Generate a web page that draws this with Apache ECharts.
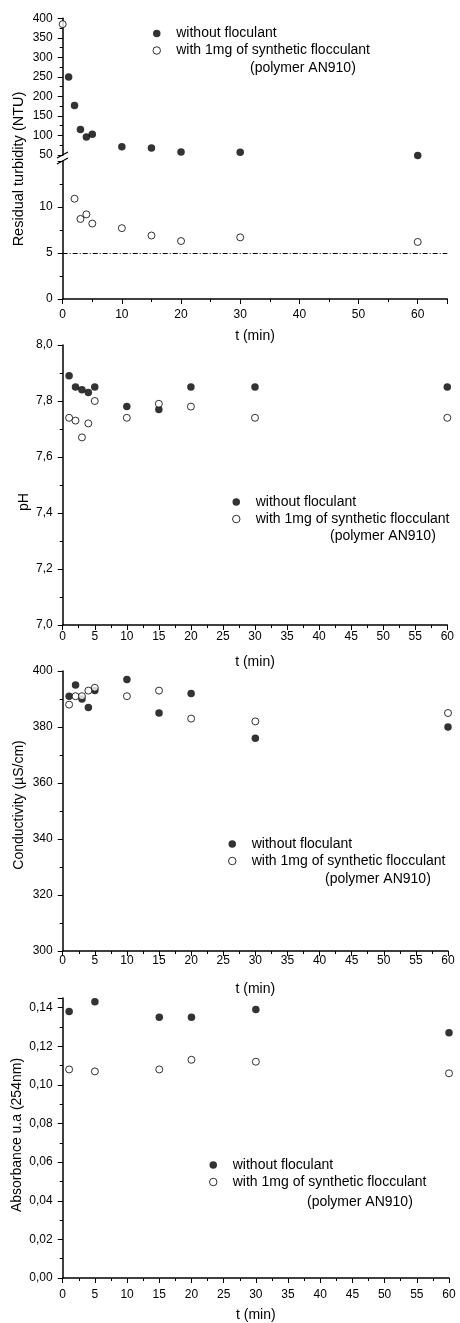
<!DOCTYPE html>
<html><head><meta charset="utf-8">
<script src="https://cdn.jsdelivr.net/npm/echarts@6/dist/echarts.min.js"></script>
<style>html,body{margin:0;padding:0;background:#fff}#c{width:460px;height:1323px}</style>
</head><body><div id="c"></div>
<script>
// ---- data ----
const seriesNames = ['without floculant', 'with 1mg of synthetic flocculant'];
const legendNote = '(polymer AN910)';
const xTitle = 't (min)';
const yTitles = ['Residual turbidity (NTU)', 'pH', 'Conductivity (µS/cm)', 'Absorbance u.a (254nm)'];

// turbidity (broken axis: upper 50-400, lower 0-15)
const turbTimeNoFloc = [1, 2, 3, 4, 5, 10, 15, 20, 30, 60];
const turbNoFloc = [250, 177, 115, 96, 103, 71, 68, 58, 57, 49];
const turbTimeFlocHigh = [0];
const turbFlocHigh = [385];
const turbTimeFloc = [2, 3, 4, 5, 10, 15, 20, 30, 60];
const turbFloc = [10.9, 8.7, 9.2, 8.2, 7.7, 6.9, 6.3, 6.7, 6.2];
const turbLimit = 5;

// pH & conductivity
const timeMin = [1, 2, 3, 4, 5, 10, 15, 20, 30, 60];
const phNoFloc = [7.89, 7.85, 7.84, 7.83, 7.85, 7.78, 7.77, 7.85, 7.85, 7.85];
const phFloc = [7.74, 7.73, 7.67, 7.72, 7.80, 7.74, 7.79, 7.78, 7.74, 7.74];
const condNoFloc = [391, 395, 390, 387, 393, 397, 385, 392, 376, 380];
const condFloc = [388, 391, 391, 393, 394, 391, 393, 383, 382, 385];

// absorbance
const absTime = [1, 5, 15, 20, 30, 60];
const absNoFloc = [0.138, 0.143, 0.135, 0.135, 0.139, 0.127];
const absFloc = [0.108, 0.107, 0.108, 0.113, 0.112, 0.106];

// ---- helpers ----
const FONT = "'Liberation Sans', Arial, sans-serif";
const zip = (xs, ys) => xs.map((x, i) => [x, ys[i]]);
const comma = d => v => v.toFixed(d).replace('.', ',');

function xAx(gi, max, interval, margin, nameGap, show) {
  return {
    type: 'value', gridIndex: gi, min: 0, max: max, interval: interval,
    show: show !== false,
    name: xTitle, nameLocation: 'middle', nameGap: nameGap,
    nameTextStyle: { color: '#000', fontSize: 14, fontFamily: FONT },
    axisLine: { show: true, onZero: false, lineStyle: { color: '#000', width: 1.5 } },
    axisTick: { show: true, length: 5, lineStyle: { color: '#000', width: 1 } },
    minorTick: { show: true, splitNumber: 2, length: 3, lineStyle: { color: '#000', width: 1 } },
    splitLine: { show: false },
    axisLabel: { color: '#000', fontSize: 12, fontFamily: FONT, margin: margin, showMaxLabel: max === 60,
      formatter: v => (v > 60 ? '' : String(v)) }
  };
}
function yAx(gi, min, max, interval, fmt, hideMax) {
  return {
    type: 'value', gridIndex: gi, min: min, max: max, interval: interval,
    axisLine: { show: true, onZero: false, lineStyle: { color: '#000', width: 1.5 } },
    axisTick: { show: true, length: 5, lineStyle: { color: '#000', width: 1 } },
    minorTick: { show: true, splitNumber: 2, length: 3, lineStyle: { color: '#000', width: 1 } },
    splitLine: { show: false },
    axisLabel: { color: '#000', fontSize: 12, fontFamily: FONT, margin: 10, showMaxLabel: !hideMax, formatter: fmt }
  };
}
const filled = { symbol: 'circle', symbolSize: 7.5, itemStyle: { color: '#000' } };
const open = { symbol: 'circle', symbolSize: 7, itemStyle: { color: '#fff', borderColor: '#000', borderWidth: 1 } };
function sc(name, xi, yi, data, style, extra) {
  return Object.assign({ type: 'scatter', name: name, xAxisIndex: xi, yAxisIndex: yi, data: data, clip: false, z: style === open ? 3 : 2 }, style, extra || {});
}

const legendPos = [[152.5, 25.5], [232, 494], [228, 836], [209, 1157]];
const notePos = [[250, 68], [330, 536], [325, 879], [307, 1202]];
const legends = legendPos.map(p => ({
  left: p[0], top: p[1], orient: 'vertical', padding: 0, itemGap: 1,
  itemWidth: 29, itemHeight: 7.5, selectedMode: false,
  textStyle: { color: '#000', fontSize: 14, fontFamily: FONT, lineHeight: 16 },
  data: [
    { name: seriesNames[0], icon: 'circle', itemStyle: { color: '#000', borderWidth: 0 } },
    { name: seriesNames[1], icon: 'circle', itemStyle: { color: '#fff', borderColor: '#000', borderWidth: 1 } }
  ]
}));

const titlePos = [[19, 169], [24, 502], [19, 805], [17, 1135]];
const graphics = [];
titlePos.forEach((p, i) => graphics.push({
  type: 'text', x: p[0], y: p[1], rotation: Math.PI / 2, silent: true,
  style: { text: yTitles[i], fill: '#000', font: (i === 0 ? '14.5px ' : '14px ') + FONT, align: 'center', verticalAlign: 'middle' }
}));
notePos.forEach(p => graphics.push({
  type: 'text', x: p[0], y: p[1], silent: true,
  style: { text: legendNote, fill: '#000', font: '14px ' + FONT, align: 'left', verticalAlign: 'middle' }
}));
// axis break marks
[[57, 158, 68, 152], [57, 164, 68, 158]].forEach(s => graphics.push({
  type: 'line', silent: true, shape: { x1: s[0], y1: s[1], x2: s[2], y2: s[3] },
  style: { stroke: '#000', lineWidth: 1.2 }
}));

const option = {
  animation: false,
  backgroundColor: '#fff',
  grid: [
    { left: 62.7, top: 18.3, width: 384.6, height: 136.7 },
    { left: 62.7, top: 161, width: 384.6, height: 138 },
    { left: 62.7, top: 345, width: 384.6, height: 280 },
    { left: 62.7, top: 671, width: 385.3, height: 280 },
    { left: 62.7, top: 998, width: 386.3, height: 282 }
  ],
  xAxis: [
    xAx(0, 65, 10, 10, 30, false),
    xAx(1, 65, 10, 10, 30),
    xAx(2, 60, 5, 6, 30),
    xAx(3, 60, 5, 4, 31),
    xAx(4, 60, 5, 11, 30)
  ],
  yAxis: [
    yAx(0, 50, 400, 50, v => String(v)),
    yAx(1, 0, 15, 5, v => (v > 10 ? '' : String(v)), true),
    yAx(2, 7.0, 8.0, 0.2, comma(1)),
    yAx(3, 300, 400, 20, v => String(v)),
    yAx(4, 0, 0.145, 0.02, comma(2), true)
  ],
  legend: legends,
  graphic: graphics,
  series: [
    sc(seriesNames[0], 0, 0, zip(turbTimeNoFloc, turbNoFloc), filled),
    sc(seriesNames[1], 0, 0, zip(turbTimeFlocHigh, turbFlocHigh), open),
    sc(seriesNames[1], 1, 1, zip(turbTimeFloc, turbFloc), open, {
      markLine: { silent: true, symbol: 'none', label: { show: false },
        lineStyle: { color: '#000', width: 1, type: [5, 2, 1, 2] },
        data: [{ yAxis: turbLimit }] }
    }),
    sc(seriesNames[0], 2, 2, zip(timeMin, phNoFloc), filled),
    sc(seriesNames[1], 2, 2, zip(timeMin, phFloc), open),
    sc(seriesNames[0], 3, 3, zip(timeMin, condNoFloc), filled),
    sc(seriesNames[1], 3, 3, zip(timeMin, condFloc), open),
    sc(seriesNames[0], 4, 4, zip(absTime, absNoFloc), filled),
    sc(seriesNames[1], 4, 4, zip(absTime, absFloc), open)
  ]
};
const chart = echarts.init(document.getElementById('c'), null, { renderer: 'canvas' });
chart.setOption(option);
</script>
</body></html>
